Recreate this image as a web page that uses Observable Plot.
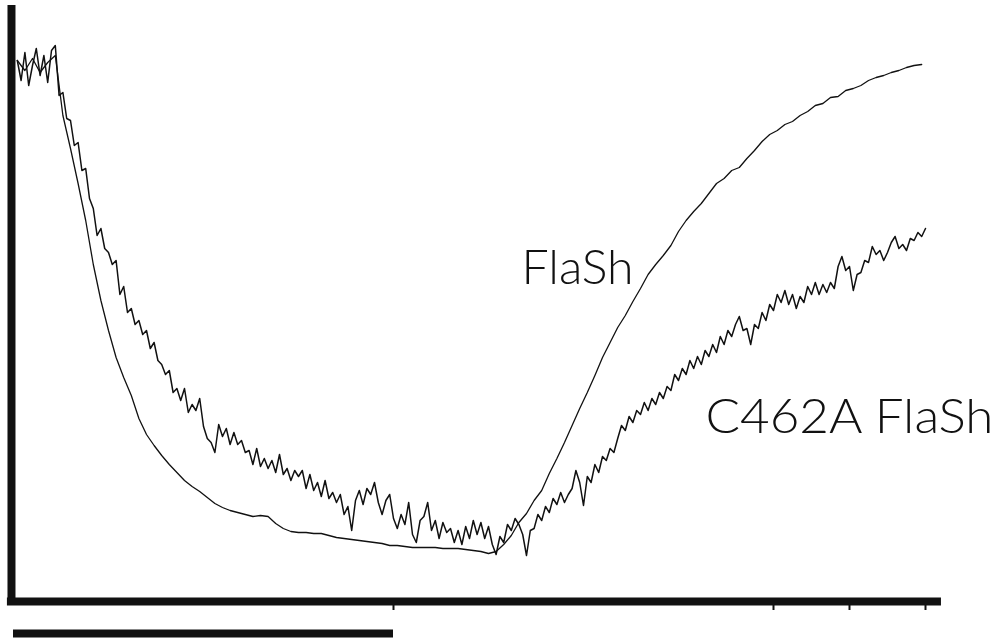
<!DOCTYPE html>
<html><head><meta charset="utf-8">
<script src="https://cdn.jsdelivr.net/npm/d3@7"></script>
<script src="https://cdn.jsdelivr.net/npm/@observablehq/plot@0.6"></script>
<style>html,body{margin:0;padding:0;background:#fff;}#chart{width:1002px;height:638px;overflow:hidden;}</style>
</head><body><div id="chart"></div>
<script>
// Series names
const seriesNames = ["FlaSh", "C462A FlaSh"];

// FlaSh trace: fluorescence (a.u.), sampled every 2 ms starting at 1 ms
const flashStart = 1, flashStep = 2;
const flashValues = [
  540, 530, 542, 528, 538, 545, 485, 452, 417, 380,
  336, 300, 270, 243, 223, 205, 182, 166, 155, 145,
  136, 128, 120, 114, 109, 103, 97, 93, 90, 88,
  86, 84, 85, 84, 77, 72, 69, 68, 68, 67,
  67, 65, 63, 62, 61, 60, 59, 58, 57, 55,
  55, 54, 53, 53, 53, 53, 52, 52, 52, 51,
  50, 49, 47, 49, 56, 65, 78, 87, 100, 110,
  127, 142, 158, 175, 192, 208, 225, 243, 258, 273,
  285, 299, 312, 326, 336, 345, 355, 369, 380, 389,
  397, 407, 417, 422, 430, 433, 442, 450, 459, 466,
  470, 476, 479, 485, 489, 495, 497, 503, 504, 510,
  512, 515, 520, 523, 525, 528, 530, 533, 535, 536
];

// C462A FlaSh trace: fluorescence (a.u.), sampled every 1 ms starting at 1 ms
const c462aStart = 1, c462aStep = 1;
const c462aValues = [
  540, 520, 548, 515, 535, 552, 525, 545, 518, 550,
  555, 505, 508, 482, 480, 455, 458, 430, 432, 402,
  392, 365, 372, 352, 348, 336, 340, 306, 314, 288,
  292, 276, 280, 266, 270, 252, 258, 240, 236, 226,
  230, 208, 212, 200, 212, 188, 196, 190, 202, 174,
  162, 158, 148, 176, 164, 172, 156, 168, 156, 160,
  148, 150, 136, 152, 134, 142, 132, 140, 128, 146,
  126, 132, 120, 130, 124, 130, 112, 126, 110, 118,
  104, 120, 102, 108, 98, 106, 86, 94, 70, 100,
  110, 96, 112, 106, 118, 98, 86, 100, 106, 82,
  72, 86, 76, 98, 66, 58, 80, 84, 98, 70,
  80, 62, 78, 68, 72, 58, 70, 56, 74, 62,
  80, 66, 78, 62, 74, 56, 46, 64, 58, 76,
  70, 82, 76, 66, 45, 70, 72, 86, 80, 94,
  88, 102, 96, 108, 98, 106, 112, 130, 118, 95,
  124, 118, 136, 128, 144, 140, 152, 148, 162, 175,
  170, 184, 178, 190, 186, 198, 190, 202, 196, 208,
  202, 214, 210, 226, 220, 232, 226, 240, 232, 244,
  236, 250, 244, 256, 248, 264, 256, 270, 264, 276,
  284, 270, 272, 256, 276, 272, 288, 280, 296, 290,
  306, 298, 310, 296, 306, 292, 304, 298, 314, 306,
  318, 306, 316, 308, 318, 312, 334, 344, 330, 334,
  310, 326, 328, 340, 338, 354, 346, 350, 340, 348,
  358, 364, 352, 356, 350, 362, 360, 368, 364, 372
];

// Time axis tick marks (ms) and scale bar (ms)
const xTicks = [100, 200, 220, 240];
const scaleBar = [0, 100];

const flash = flashValues.map((v, i) => ({t: flashStart + i * flashStep, f: v}));
const c462a = c462aValues.map((v, i) => ({t: c462aStart + i * c462aStep, f: v}));

const labels = [
  {text: seriesNames[0], t: 133.7, f: 317, len: 112},
  {text: seriesNames[1], t: 182.1, f: 168, len: 288}
];

const ink = "#111";
const chart = Plot.plot({
  width: 1002, height: 638,
  marginLeft: 13, marginRight: 39, marginTop: 5, marginBottom: 38,
  x: {domain: [0, 250], axis: null},
  y: {domain: [0, 595], axis: null},
  marks: [
    Plot.ruleX([-0.53], {y1: -5, y2: 595, stroke: ink, strokeWidth: 8}),
    Plot.ruleY([-1], {x1: -1.6, x2: 244.2, stroke: ink, strokeWidth: 8}),
    Plot.ruleX(xTicks, {y1: -4, y2: -10, stroke: ink, strokeWidth: 2}),
    Plot.ruleY([-33], {x1: scaleBar[0], x2: scaleBar[1], stroke: ink, strokeWidth: 8}),
    Plot.line(c462a, {x: "t", y: "f", stroke: ink, strokeWidth: 1.5}),
    Plot.line(flash, {x: "t", y: "f", stroke: ink, strokeWidth: 1.3}),
    Plot.text(labels, {x: "t", y: "f", text: "text", textAnchor: "start", lineAnchor: "bottom",
      fontSize: 48, fontWeight: 300, fill: ink, fontFamily: "Lato, Liberation Sans, Arial, sans-serif"})
  ]
});
d3.select(chart).selectAll("text").each(function(d, i) {
  const lab = labels[i];
  if (lab) d3.select(this).attr("textLength", lab.len).attr("lengthAdjust", "spacingAndGlyphs");
});
document.getElementById("chart").appendChild(chart);
</script>
</body></html>
